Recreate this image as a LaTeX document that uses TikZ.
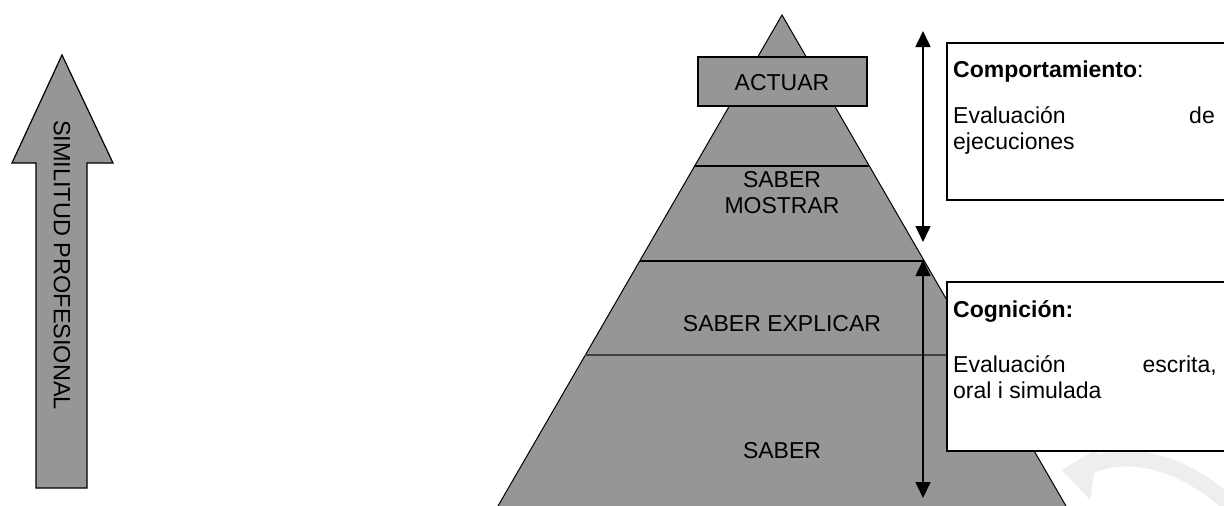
\documentclass[tikz,border=0pt]{standalone}
\usepackage{fontspec}
\setmainfont{Liberation Sans}
\usetikzlibrary{arrows.meta}
\definecolor{pyr}{RGB}{150,150,150}
\definecolor{midline}{RGB}{64,64,64}
\definecolor{wm}{RGB}{238,238,238}
\begin{document}
\begin{tikzpicture}[x=1pt,y=-1pt,
  lbl/.style={font=\fontsize{23}{26}\selectfont, inner sep=0pt, anchor=base},
  txt/.style={font=\fontsize{23}{26}\selectfont, inner sep=0pt, anchor=base west},
  txtr/.style={font=\fontsize{23}{26}\selectfont, inner sep=0pt, anchor=base east},
  layerline/.style={draw=black, line width=1.3pt},
  dbl/.style={draw=black, line width=1.6pt, {Triangle[length=16pt,width=15pt]}-{Triangle[length=16pt,width=15pt]}},
  infobox/.style={draw=black, line width=1.2pt, fill=white}
]
\useasboundingbox (0,0) rectangle (1224,506);
\clip (0,0) rectangle (1224,506);
\fill[white] (0,0) rectangle (1224,506);

% faint watermark
\draw[wm, line width=16pt] (1085,468) .. controls (1130,445) and (1190,465) .. (1235,510);
\fill[wm] (1062,470) -- (1098,448) -- (1090,500) -- cycle;

% left arrow
\draw[fill=pyr, line width=1.2pt, line join=miter]
  (62,55) -- (113,163) -- (87,163) -- (87,488) -- (36,488) -- (36,163) -- (12,163) -- cycle;
\node[font=\fontsize{23.5}{26}\selectfont, rotate=-90, inner sep=0pt] (sim) at (62,265) {SIMILITUD PROFESIONAL};

% pyramid
\coordinate (apex) at (782,15);
\coordinate (bl) at (498,506);
\coordinate (br) at (1066,506);
\fill[pyr] (bl) -- (apex) -- (br) -- cycle;
\draw[line width=1pt] (bl) -- (apex) -- (br);

\coordinate (l1a) at (695,166); \coordinate (l1b) at (869,166);
\coordinate (l2a) at (640,261); \coordinate (l2b) at (924,261);
\coordinate (l3a) at (585,355); \coordinate (l3b) at (979,355);
\draw[layerline] (l1a) -- (l1b);
\draw[layerline] (l2a) -- (l2b);
\draw[draw=midline, line width=2.6pt] (l3a) -- (l3b);

\node[draw=black, line width=1.3pt, fill=pyr, minimum width=169pt, minimum height=49pt, inner sep=0pt] (actbox) at (782.5,81.5) {};
\node[lbl] (actuar) at (782,90) {ACTUAR};
\node[lbl] (sm1) at (782,187) {SABER};
\node[lbl] (sm2) at (782,213) {MOSTRAR};
\node[lbl] (sexp) at (782,331) {SABER EXPLICAR};
\node[lbl] (saber) at (782,458) {SABER};

% double arrows
\coordinate (a1t) at (923,31);
\coordinate (a1b) at (923,242);
\coordinate (a2t) at (923,260);
\coordinate (a2b) at (923,498);
\draw[dbl] (a1t) -- (a1b);

% boxes
\draw[infobox] (947,43) rectangle (1240,200);
\node[txt] (comp) at (953,77) {\textbf{Comportamiento}:};
\node[txt] (ev1) at (953,123) {Evaluación};
\node[txtr] (de) at (1215,123) {de};
\node[txt] (ej) at (953,149) {ejecuciones};

\draw[infobox] (947,282) rectangle (1240,451);
\draw[dbl] (a2t) -- (a2b);
\draw[infobox, fill=none] (947,282) rectangle (1240,451);
\node[txt] (cog) at (953,317) {\textbf{Cognición:}};
\node[txt] (ev2) at (953,372) {Evaluación};
\node[txtr] (esc) at (1217,372) {escrita,};
\node[txt] (oral) at (953,398) {oral i simulada};
\end{tikzpicture}
\end{document}
